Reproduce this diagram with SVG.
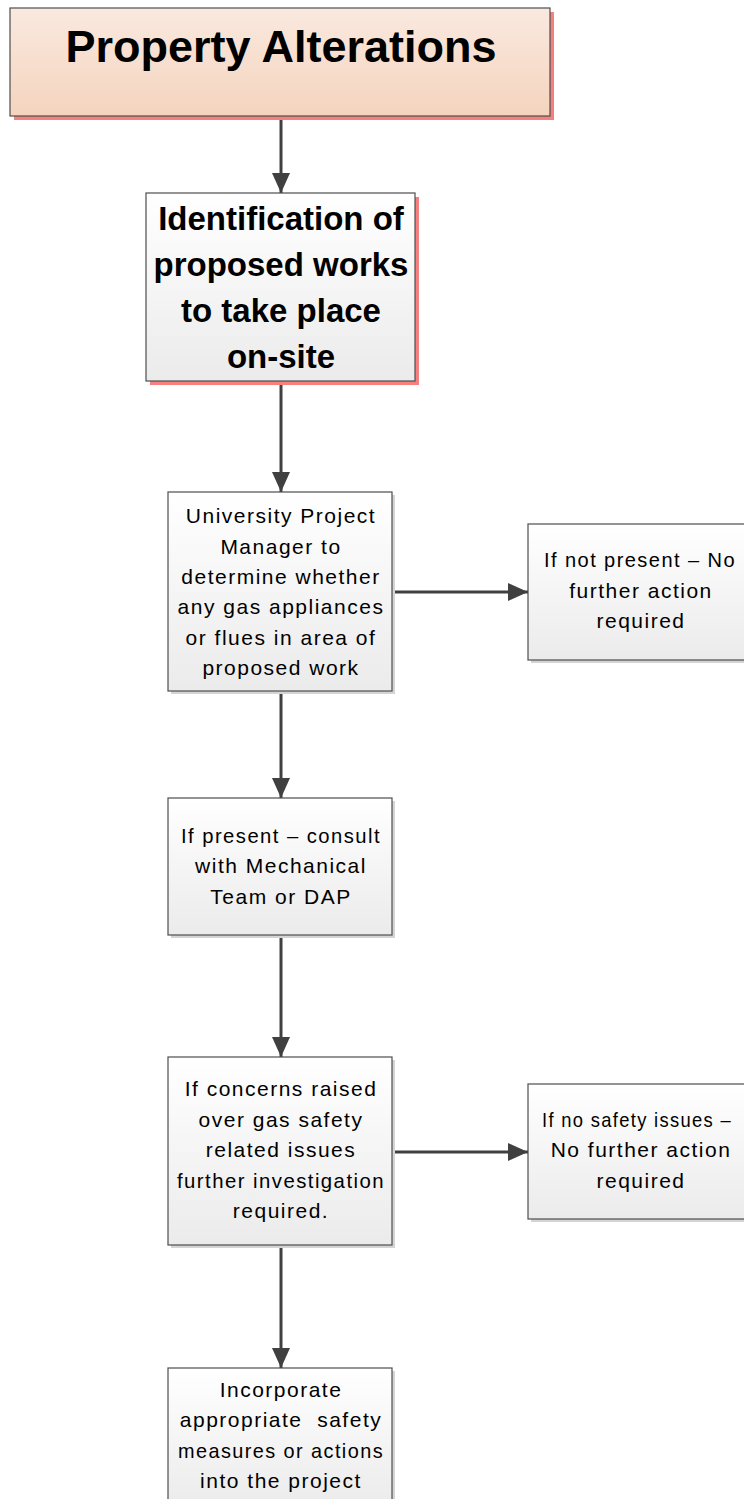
<svg xmlns="http://www.w3.org/2000/svg" width="744" height="1499" viewBox="0 0 744 1499">
  <defs>
    <linearGradient id="gPeach" x1="0" y1="0" x2="0" y2="1">
      <stop offset="0" stop-color="#fae9df"/>
      <stop offset="1" stop-color="#f4d4be"/>
    </linearGradient>
    <linearGradient id="gGrey" x1="0" y1="0" x2="0" y2="1">
      <stop offset="0" stop-color="#ffffff"/>
      <stop offset="1" stop-color="#ebebeb"/>
    </linearGradient>
    <marker id="arrow" markerWidth="22" markerHeight="20" refX="20" refY="9" orient="auto" markerUnits="userSpaceOnUse">
      <path d="M0,0 L20,9 L0,18 Z" fill="#404040"/>
    </marker>
  </defs>
  <style>
    .box { stroke: #4d4d4d; stroke-width: 1.2; }
    .peach { fill: url(#gPeach); }
    .grey { fill: url(#gGrey); }
    .shadowPink { fill: #f58080; }
    .shadowGrey { fill: #d4d4d4; }
    .conn { stroke: #404040; stroke-width: 3; fill: none; marker-end: url(#arrow); }
    text { font-family: "Liberation Sans", Arial, sans-serif; fill: #000; text-anchor: middle; }
    .title { font-size: 45px; font-weight: bold; }
    .head { font-size: 33px; font-weight: bold; }
    .body { font-size: 21px; letter-spacing: 1.5px; }
  </style>

  <!-- connectors -->
  <g id="connectors">
    <line class="conn" x1="281" y1="116" x2="281" y2="193"/>
    <line class="conn" x1="281" y1="381" x2="281" y2="492"/>
    <line class="conn" x1="392" y1="592" x2="528" y2="592"/>
    <line class="conn" x1="281" y1="691" x2="281" y2="798"/>
    <line class="conn" x1="281" y1="935" x2="281" y2="1057"/>
    <line class="conn" x1="392" y1="1152" x2="528" y2="1152"/>
    <line class="conn" x1="281" y1="1245" x2="281" y2="1368"/>
  </g>

  <!-- title -->
  <g id="node-title">
    <rect class="shadowPink" x="14" y="12" width="540" height="108"/>
    <rect class="box peach" x="10" y="8" width="540" height="108"/>
    <text class="title" x="281" y="62">Property Alterations</text>
  </g>

  <!-- identification -->
  <g id="node-identify">
    <rect class="shadowPink" x="150" y="197" width="269" height="188"/>
    <rect class="box grey" x="146" y="193" width="269" height="188"/>
    <text class="head" x="281" y="230">Identification of</text>
    <text class="head" x="281" y="276">proposed works</text>
    <text class="head" x="281" y="322">to take place</text>
    <text class="head" x="281" y="368">on-site</text>
  </g>

  <!-- project manager check -->
  <g id="node-determine">
    <rect class="shadowGrey" x="171" y="495" width="224" height="199"/>
    <rect class="box grey" x="168" y="492" width="224" height="199"/>
    <text class="body" x="281" y="523">University Project</text>
    <text class="body" x="281" y="554">Manager to</text>
    <text class="body" x="281" y="584">determine whether</text>
    <text class="body" x="281" y="614">any gas appliances</text>
    <text class="body" x="281" y="645">or flues in area of</text>
    <text class="body" x="281" y="675">proposed work</text>
  </g>

  <!-- not present -->
  <g id="node-not-present">
    <rect class="shadowGrey" x="531" y="527" width="224" height="136"/>
    <rect class="box grey" x="528" y="524" width="224" height="136"/>
    <text class="body" x="640" y="567" textLength="192" lengthAdjust="spacingAndGlyphs">If not present – No</text>
    <text class="body" x="641" y="598">further action</text>
    <text class="body" x="641" y="628">required</text>
  </g>

  <!-- consult -->
  <g id="node-consult">
    <rect class="shadowGrey" x="171" y="801" width="224" height="137"/>
    <rect class="box grey" x="168" y="798" width="224" height="137"/>
    <text class="body" x="281" y="843" textLength="200" lengthAdjust="spacingAndGlyphs">If present – consult</text>
    <text class="body" x="281" y="873">with Mechanical</text>
    <text class="body" x="281" y="904">Team or DAP</text>
  </g>

  <!-- concerns -->
  <g id="node-concerns">
    <rect class="shadowGrey" x="171" y="1060" width="224" height="188"/>
    <rect class="box grey" x="168" y="1057" width="224" height="188"/>
    <text class="body" x="281" y="1096">If concerns raised</text>
    <text class="body" x="281" y="1127">over gas safety</text>
    <text class="body" x="281" y="1157">related issues</text>
    <text class="body" x="281" y="1188" textLength="208" lengthAdjust="spacingAndGlyphs">further investigation</text>
    <text class="body" x="281" y="1218">required.</text>
  </g>

  <!-- no safety issues -->
  <g id="node-no-issues">
    <rect class="shadowGrey" x="531" y="1087" width="224" height="135"/>
    <rect class="box grey" x="528" y="1084" width="224" height="135"/>
    <text class="body" x="637" y="1127" textLength="190" lengthAdjust="spacingAndGlyphs">If no safety issues –</text>
    <text class="body" x="641" y="1157">No further action</text>
    <text class="body" x="641" y="1188">required</text>
  </g>

  <!-- incorporate -->
  <g id="node-incorporate">
    <rect class="shadowGrey" x="171" y="1371" width="224" height="140"/>
    <rect class="box grey" x="168" y="1368" width="224" height="140"/>
    <text class="body" x="281" y="1397">Incorporate</text>
    <text class="body" x="281" y="1427" xml:space="preserve">appropriate  safety</text>
    <text class="body" x="281" y="1458" textLength="206" lengthAdjust="spacingAndGlyphs">measures or actions</text>
    <text class="body" x="281" y="1488">into the project</text>
  </g>
</svg>
